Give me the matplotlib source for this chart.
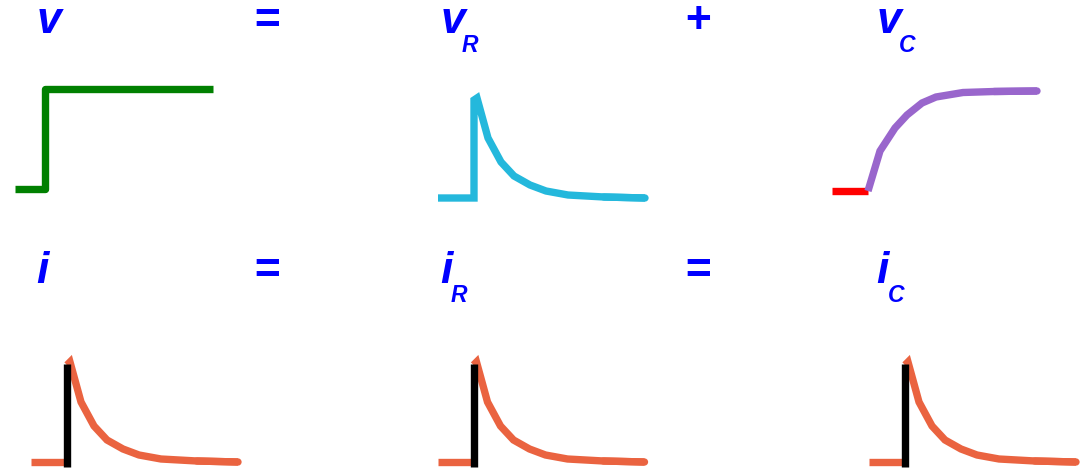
import matplotlib
matplotlib.use("Agg")
import matplotlib.pyplot as plt

W, H = 1083, 470
PX_T = 20   # pixels per time unit
PX_V = 100  # pixels per unit of signal
T_MIN, T_MAX = -3, 10
V_MIN, V_MAX = -0.5, 1.5

# waveforms (time ~ tau units, values normalised to the step height)
pre_t = [-1.8, 0]
pre_val = [0, 0]
v_t = [-1.5, 0, 0, 8.4]
v_val = [0, 0, 1, 1]
decay_t = [0.15, 0.7, 1.35, 2.0, 2.8, 3.6, 4.7, 6.5, 8.55]
decay_val = [1.0, 0.6, 0.36, 0.22, 0.13, 0.07, 0.03, 0.01, 0.0]
rise_t = [0, 0.6, 1.35, 1.95, 2.7, 3.4, 4.75, 6.3, 8.45]
rise_val = [0, 0.4, 0.63, 0.76, 0.88, 0.94, 0.985, 0.995, 1.0]
jump_t = [0, 0]
jump_val = [-0.05, 0.98]

# labels
names = ["v", "v", "v", "i", "i", "i"]
subs = ["", "R", "C", "", "R", "C"]
ops = ["=", "+", "=", "="]

GREEN = "#008000"
CYAN = "#24b8dc"
PURPLE = "#9966cc"
RED = "#ff0000"
ORANGE = "#ea6340"
BLUE = "#0000ff"
LW = 5.3


def panel(fig, x0, y0):
    # x0, y0: pixel position of the step (t=0, value=0)
    left = x0 + T_MIN * PX_T
    bottom = y0 - V_MIN * PX_V
    ax = fig.add_axes([left / W, 1 - bottom / H,
                       (T_MAX - T_MIN) * PX_T / W,
                       (V_MAX - V_MIN) * PX_V / H])
    ax.set_xlim(T_MIN, T_MAX)
    ax.set_ylim(V_MIN, V_MAX)
    ax.axis("off")
    ax.patch.set_alpha(0)
    return ax


def line(ax, t, y, color, end_round=False, **kw):
    ax.plot(t, y, color=color, lw=LW, solid_capstyle="butt",
            solid_joinstyle="miter", clip_on=False, **kw)
    if end_round:
        ax.plot(t[-2:], y[-2:], color=color, lw=LW,
                solid_capstyle="round", clip_on=False)


fig = plt.figure(figsize=(W / 100, H / 100), dpi=100)

# v
ax = panel(fig, 45, 189)
ax.plot(v_t, v_val, color=GREEN, lw=LW, solid_capstyle="butt",
        solid_joinstyle="round", clip_on=False)

# v_R
ax = panel(fig, 474, 198)
line(ax, pre_t + [0] + decay_t, pre_val + [0.98] + decay_val, CYAN,
     end_round=True)

# v_C
ax = panel(fig, 868, 191)
line(ax, pre_t, pre_val, RED)
line(ax, rise_t, rise_val, PURPLE, end_round=True)

# i, i_R, i_C
for x0 in [67, 473.5, 905]:
    ax = panel(fig, x0, 462)
    line(ax, pre_t, pre_val, ORANGE)
    line(ax, [0] + decay_t, [0.97] + decay_val, ORANGE, end_round=True)
    line(ax, jump_t, jump_val, "black")

font = dict(family="Liberation Sans", weight="bold", style="italic",
            color=BLUE)
name_x = [37, 441, 877, 36, 440, 876]
sub_x = [462, 899, 451, 888]
base_y = [33, 33, 33, 283, 283, 283]
sub_y = [52, 52, 302, 302]

k = 0
for n, s, x, y in zip(names, subs, name_x, base_y):
    fig.text(x / W, 1 - y / H, n, fontsize=32, ha="left", va="baseline",
             **font)
    if s:
        fig.text(sub_x[k] / W, 1 - sub_y[k] / H, s, fontsize=16.5,
                 ha="left", va="baseline", **font)
        k += 1

op_x = [266.5, 697, 266.5, 697.5]
op_y = [33, 33, 283, 283]
for o, x, y in zip(ops, op_x, op_y):
    fig.text(x / W, 1 - y / H, o, fontsize=32, ha="center", va="baseline",
             **font)

fig.savefig("out.png", dpi=100)
